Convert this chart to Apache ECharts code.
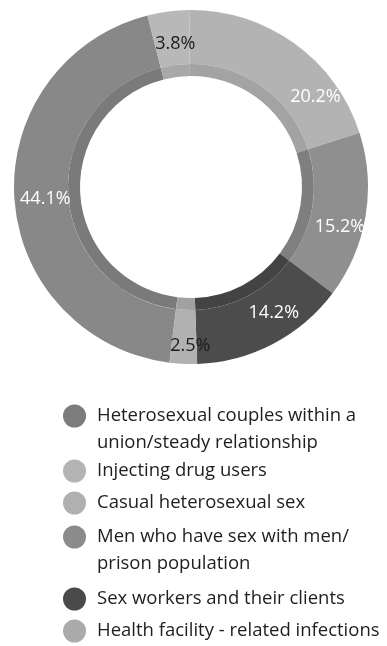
<!DOCTYPE html>
<html>
<head>
<meta charset="utf-8">
<script src="https://cdn.jsdelivr.net/npm/echarts@6/dist/echarts.min.js"></script>
<style>
  html, body { margin: 0; padding: 0; background: #ffffff; }
  #chart { width: 387px; height: 646px; }
</style>
</head>
<body>
<div id="chart"></div>
<script>
// Transmission groups (legend order) and their share of cases, in percent
const categories = [
  'Heterosexual couples within a\nunion/steady relationship',
  'Injecting drug users',
  'Casual heterosexual sex',
  'Men who have sex with men/\nprison population',
  'Sex workers and their clients',
  'Health facility - related infections'
];
const shares = [44.1, 3.8, 20.2, 15.2, 14.2, 2.5];

// Greyscale palette: ring face, darker inner rim, legend swatch, label ink
const sliceColors  = ['#888888', '#b8b8b8', '#b3b3b3', '#8f8f8f', '#4c4c4c', '#b1b1b1'];
const rimColors    = ['#7a7a7a', '#a8a8a8', '#a3a3a3', '#7f7f7f', '#434343', '#a1a1a1'];
const swatchColors = ['#7c7c7c', '#b4b4b4', '#b0b0b0', '#8b8b8b', '#4a4a4a', '#ababab'];
const labelInk     = ['#ffffff', '#1c1c1c', '#ffffff', '#ffffff', '#ffffff', '#1c1c1c'];

// Small nudges [dx, dy] for the percentage labels inside the ring
const labelNudge = [[7, 2], [4, 9], [35, 34], [-2, 15], [12, -10], [6, 6]];
// Vertical centre of each legend swatch
const legendRowY = [416, 471, 503, 537, 599, 631];

const FONT = '"Open Sans", "Noto Sans", sans-serif';
const CENTER = [191, 187];
const START = 263;

const chart = echarts.init(document.getElementById('chart'), null, { renderer: 'canvas' });

// One legend block per group so wrapped names keep the swatch on their first line
const legends = categories.map(function (name, i) {
  const twoLine = name.indexOf('\n') >= 0;
  return {
    orient: 'vertical',
    left: 63,
    top: legendRowY[i] - (twoLine ? 40.5 : 13.5),
    padding: 0,
    itemWidth: 23,
    itemHeight: 23,
    itemGap: 0,
    icon: 'circle',
    selectedMode: false,
    formatter: function (n) { return twoLine ? '\n' + n : n; },
    textStyle: {
      fontFamily: FONT,
      fontSize: 18.5,
      lineHeight: 27,
      color: '#1e1e1e',
      padding: [0, 0, 0, 6]
    },
    data: [{ name: name, itemStyle: { color: swatchColors[i] } }]
  };
});

chart.setOption({
  backgroundColor: '#ffffff',
  animation: false,
  legend: legends,
  series: [
    {
      type: 'pie',
      name: 'Share of cases',
      center: CENTER,
      radius: [123, 177],
      startAngle: START,
      clockwise: true,
      avoidLabelOverlap: false,
      emphasis: { disabled: true },
      labelLine: { show: false },
      label: {
        show: true,
        position: 'inside',
        fontFamily: FONT,
        fontSize: 18,
        formatter: function (p) { return p.value + '%'; }
      },
      labelLayout: function (params) {
        const n = labelNudge[params.dataIndex];
        return { dx: n[0], dy: n[1] };
      },
      data: shares.map(function (v, i) {
        return {
          name: categories[i],
          value: v,
          itemStyle: { color: sliceColors[i] },
          label: { color: labelInk[i] }
        };
      })
    },
    {
      type: 'pie',
      name: 'rim',
      silent: true,
      center: CENTER,
      radius: [111, 123],
      startAngle: START,
      clockwise: true,
      emphasis: { disabled: true },
      label: { show: false },
      labelLine: { show: false },
      data: shares.map(function (v, i) {
        return { name: 'rim-' + i, value: v, itemStyle: { color: rimColors[i] } };
      })
    }
  ]
});
</script>
</body>
</html>
